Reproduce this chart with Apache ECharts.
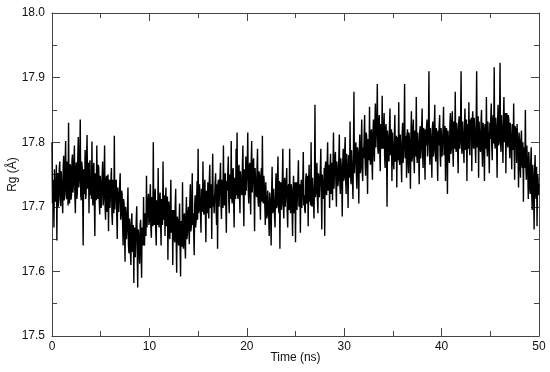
<!DOCTYPE html>
<html>
<head>
<meta charset="utf-8">
<script src="https://cdn.jsdelivr.net/npm/echarts@6/dist/echarts.min.js"></script>
<style>
  html, body { margin: 0; padding: 0; background: #fff; }
  #chart { width: 550px; height: 372px; }
</style>
</head>
<body>
<div id="chart"></div>
<script>
// sampling step of the trajectory (ns)
var dt = 0.05;

// Rg values (Å), one per dt (1 ns per row)
var rg = [
    17.800, 17.705, 17.742, 17.722, 17.668, 17.758, 17.761, 17.708, 17.712, 17.765, 17.648, 17.748, 17.752, 17.700, 17.719, 17.760, 17.770, 17.712, 17.701, 17.755,
    17.758, 17.715, 17.690, 17.762, 17.779, 17.710, 17.725, 17.768, 17.802, 17.718, 17.712, 17.770, 17.748, 17.702, 17.830, 17.726, 17.705, 17.766, 17.762, 17.711,
    17.718, 17.772, 17.781, 17.722, 17.735, 17.768, 17.795, 17.716, 17.690, 17.760, 17.769, 17.712, 17.722, 17.778, 17.808, 17.730, 17.741, 17.775, 17.835, 17.718,
    17.710, 17.770, 17.762, 17.715, 17.640, 17.758, 17.752, 17.720, 17.788, 17.712, 17.718, 17.776, 17.811, 17.728, 17.731, 17.768, 17.690, 17.762, 17.772, 17.718,
    17.745, 17.712, 17.801, 17.718, 17.702, 17.762, 17.768, 17.705, 17.655, 17.752, 17.741, 17.710, 17.795, 17.722, 17.712, 17.765, 17.760, 17.708, 17.688, 17.748,
    17.738, 17.698, 17.695, 17.748, 17.770, 17.702, 17.712, 17.745, 17.795, 17.700, 17.680, 17.742, 17.748, 17.692, 17.705, 17.750, 17.662, 17.735, 17.742, 17.698,
    17.701, 17.740, 17.760, 17.688, 17.672, 17.742, 17.735, 17.690, 17.810, 17.696, 17.695, 17.738, 17.742, 17.685, 17.650, 17.730, 17.728, 17.692, 17.690, 17.735,
    17.752, 17.680, 17.688, 17.725, 17.720, 17.672, 17.640, 17.712, 17.705, 17.660, 17.615, 17.700, 17.690, 17.650, 17.665, 17.698, 17.730, 17.640, 17.628, 17.682,
    17.672, 17.628, 17.610, 17.675, 17.690, 17.630, 17.635, 17.672, 17.582, 17.662, 17.668, 17.622, 17.625, 17.680, 17.701, 17.632, 17.575, 17.665, 17.655, 17.628,
    17.612, 17.672, 17.680, 17.635, 17.590, 17.668, 17.662, 17.640, 17.715, 17.648, 17.640, 17.690, 17.692, 17.655, 17.748, 17.668, 17.665, 17.708, 17.720, 17.672,
    17.678, 17.712, 17.735, 17.668, 17.652, 17.715, 17.710, 17.670, 17.800, 17.682, 17.672, 17.715, 17.728, 17.665, 17.640, 17.710, 17.702, 17.672, 17.760, 17.675,
    17.668, 17.715, 17.722, 17.675, 17.640, 17.712, 17.705, 17.672, 17.770, 17.680, 17.685, 17.718, 17.655, 17.710, 17.730, 17.670, 17.692, 17.716, 17.618, 17.700,
    17.708, 17.655, 17.650, 17.698, 17.742, 17.660, 17.668, 17.695, 17.610, 17.690, 17.695, 17.652, 17.645, 17.700, 17.728, 17.650, 17.598, 17.685, 17.680, 17.648,
    17.640, 17.680, 17.705, 17.640, 17.592, 17.678, 17.672, 17.638, 17.738, 17.648, 17.635, 17.685, 17.690, 17.642, 17.620, 17.682, 17.715, 17.650, 17.658, 17.690,
    17.700, 17.665, 17.642, 17.708, 17.735, 17.662, 17.668, 17.710, 17.752, 17.672, 17.690, 17.660, 17.625, 17.702, 17.718, 17.668, 17.678, 17.712, 17.740, 17.680,
    17.790, 17.690, 17.695, 17.735, 17.735, 17.688, 17.660, 17.728, 17.722, 17.692, 17.770, 17.695, 17.688, 17.732, 17.742, 17.690, 17.645, 17.725, 17.715, 17.690,
    17.738, 17.695, 17.682, 17.740, 17.765, 17.698, 17.705, 17.735, 17.650, 17.730, 17.782, 17.700, 17.718, 17.690, 17.690, 17.738, 17.752, 17.695, 17.672, 17.735,
    17.635, 17.738, 17.742, 17.700, 17.700, 17.745, 17.768, 17.702, 17.681, 17.742, 17.735, 17.698, 17.795, 17.710, 17.702, 17.748, 17.752, 17.700, 17.660, 17.740,
    17.725, 17.752, 17.778, 17.708, 17.690, 17.750, 17.748, 17.712, 17.802, 17.715, 17.705, 17.755, 17.760, 17.710, 17.668, 17.745, 17.735, 17.712, 17.790, 17.718,
    17.815, 17.720, 17.712, 17.760, 17.765, 17.718, 17.690, 17.755, 17.752, 17.722, 17.718, 17.765, 17.795, 17.715, 17.670, 17.758, 17.740, 17.718, 17.778, 17.725,
    17.722, 17.768, 17.815, 17.725, 17.705, 17.762, 17.768, 17.720, 17.688, 17.765, 17.802, 17.722, 17.740, 17.770, 17.775, 17.718, 17.662, 17.760, 17.758, 17.722,
    17.715, 17.758, 17.790, 17.712, 17.700, 17.755, 17.748, 17.710, 17.680, 17.750, 17.760, 17.708, 17.810, 17.715, 17.705, 17.748, 17.732, 17.702, 17.672, 17.738,
    17.740, 17.682, 17.688, 17.725, 17.725, 17.685, 17.655, 17.722, 17.712, 17.680, 17.640, 17.718, 17.762, 17.690, 17.695, 17.728, 17.730, 17.685, 17.668, 17.725,
    17.752, 17.698, 17.702, 17.742, 17.778, 17.700, 17.690, 17.740, 17.635, 17.730, 17.738, 17.695, 17.705, 17.745, 17.790, 17.702, 17.682, 17.738, 17.745, 17.700,
    17.700, 17.738, 17.760, 17.692, 17.668, 17.730, 17.735, 17.695, 17.790, 17.700, 17.690, 17.735, 17.728, 17.692, 17.655, 17.725, 17.748, 17.690, 17.705, 17.738,
    17.645, 17.730, 17.738, 17.695, 17.692, 17.740, 17.772, 17.700, 17.708, 17.735, 17.660, 17.728, 17.742, 17.698, 17.700, 17.738, 17.785, 17.702, 17.718, 17.695,
    17.690, 17.742, 17.752, 17.705, 17.712, 17.748, 17.670, 17.740, 17.765, 17.708, 17.728, 17.702, 17.800, 17.710, 17.700, 17.745, 17.748, 17.705, 17.682, 17.742,
    17.858, 17.715, 17.722, 17.755, 17.768, 17.712, 17.690, 17.752, 17.745, 17.715, 17.712, 17.758, 17.790, 17.718, 17.665, 17.750, 17.752, 17.712, 17.728, 17.760,
    17.655, 17.762, 17.770, 17.722, 17.718, 17.768, 17.800, 17.725, 17.735, 17.765, 17.698, 17.760, 17.782, 17.720, 17.740, 17.768, 17.710, 17.762, 17.815, 17.728,
    17.728, 17.775, 17.785, 17.735, 17.700, 17.770, 17.770, 17.732, 17.742, 17.778, 17.812, 17.738, 17.720, 17.775, 17.762, 17.735, 17.685, 17.768, 17.790, 17.740,
    17.745, 17.785, 17.808, 17.742, 17.720, 17.782, 17.782, 17.748, 17.698, 17.780, 17.770, 17.745, 17.832, 17.750, 17.735, 17.788, 17.790, 17.742, 17.712, 17.782,
    17.878, 17.752, 17.752, 17.790, 17.800, 17.750, 17.728, 17.792, 17.785, 17.755, 17.705, 17.788, 17.812, 17.752, 17.760, 17.795, 17.835, 17.755, 17.740, 17.792,
    17.775, 17.812, 17.842, 17.770, 17.748, 17.815, 17.810, 17.768, 17.720, 17.805, 17.798, 17.772, 17.855, 17.775, 17.765, 17.815, 17.820, 17.770, 17.742, 17.812,
    17.835, 17.790, 17.770, 17.830, 17.860, 17.792, 17.795, 17.835, 17.890, 17.790, 17.782, 17.832, 17.842, 17.788, 17.755, 17.828, 17.818, 17.790, 17.872, 17.795,
    17.790, 17.822, 17.845, 17.778, 17.760, 17.822, 17.828, 17.780, 17.700, 17.818, 17.805, 17.778, 17.770, 17.825, 17.852, 17.780, 17.782, 17.820, 17.740, 17.815,
    17.815, 17.768, 17.758, 17.812, 17.842, 17.770, 17.775, 17.810, 17.730, 17.808, 17.808, 17.772, 17.862, 17.772, 17.765, 17.812, 17.795, 17.768, 17.738, 17.812,
    17.830, 17.768, 17.770, 17.812, 17.890, 17.775, 17.782, 17.810, 17.745, 17.812, 17.820, 17.770, 17.752, 17.815, 17.805, 17.772, 17.728, 17.810, 17.848, 17.770,
    17.778, 17.818, 17.835, 17.775, 17.752, 17.818, 17.812, 17.778, 17.870, 17.780, 17.768, 17.815, 17.800, 17.778, 17.735, 17.815, 17.825, 17.775, 17.790, 17.820,
    17.852, 17.780, 17.760, 17.822, 17.818, 17.782, 17.742, 17.820, 17.795, 17.822, 17.835, 17.778, 17.778, 17.825, 17.910, 17.785, 17.765, 17.822, 17.808, 17.780,
    17.745, 17.822, 17.832, 17.778, 17.788, 17.825, 17.858, 17.782, 17.770, 17.822, 17.815, 17.778, 17.740, 17.818, 17.795, 17.825, 17.842, 17.780, 17.762, 17.822,
    17.820, 17.778, 17.778, 17.822, 17.855, 17.780, 17.792, 17.825, 17.740, 17.815, 17.822, 17.780, 17.720, 17.818, 17.805, 17.775, 17.768, 17.825, 17.845, 17.782,
    17.790, 17.832, 17.848, 17.788, 17.762, 17.832, 17.830, 17.790, 17.878, 17.792, 17.785, 17.830, 17.818, 17.788, 17.752, 17.828, 17.840, 17.790, 17.800, 17.832,
    17.910, 17.790, 17.782, 17.832, 17.835, 17.792, 17.768, 17.830, 17.852, 17.788, 17.795, 17.835, 17.740, 17.828, 17.825, 17.790, 17.862, 17.792, 17.780, 17.835,
    17.812, 17.838, 17.755, 17.832, 17.848, 17.795, 17.790, 17.838, 17.835, 17.795, 17.768, 17.835, 17.910, 17.792, 17.800, 17.840, 17.745, 17.832, 17.830, 17.792,
    17.785, 17.832, 17.850, 17.790, 17.762, 17.830, 17.822, 17.788, 17.740, 17.828, 17.812, 17.790, 17.870, 17.792, 17.778, 17.832, 17.835, 17.788, 17.752, 17.830,
    17.805, 17.838, 17.860, 17.795, 17.772, 17.835, 17.842, 17.798, 17.916, 17.800, 17.790, 17.838, 17.825, 17.795, 17.745, 17.835, 17.858, 17.795, 17.800, 17.838,
    17.923, 17.800, 17.785, 17.842, 17.842, 17.802, 17.768, 17.840, 17.870, 17.800, 17.810, 17.845, 17.752, 17.835, 17.845, 17.800, 17.792, 17.842, 17.835, 17.798,
    17.775, 17.830, 17.830, 17.790, 17.758, 17.828, 17.812, 17.788, 17.860, 17.790, 17.742, 17.825, 17.800, 17.822, 17.768, 17.828, 17.825, 17.780, 17.730, 17.815,
    17.802, 17.762, 17.745, 17.805, 17.818, 17.765, 17.760, 17.800, 17.708, 17.792, 17.790, 17.760, 17.850, 17.762, 17.742, 17.795, 17.775, 17.752, 17.712, 17.785,
    17.765, 17.728, 17.720, 17.768, 17.792, 17.722, 17.695, 17.765, 17.748, 17.718, 17.665, 17.758, 17.780, 17.722, 17.712, 17.762, 17.670, 17.750, 17.745, 17.718,
    17.735
];

var xRange = [0, 50];
var yRange = [17.5, 18.0];

var points = [];
for (var i = 0; i < rg.length; i++) {
    points.push([+(i * dt).toFixed(2), rg[i]]);
}

var frame = { show: true, onZero: false, lineStyle: { color: '#444', width: 1 } };
var labelFont = { color: '#111', fontSize: 12, fontFamily: 'Liberation Sans, Arial, sans-serif' };

var chart = echarts.init(document.getElementById('chart'));
chart.setOption({
    animation: false,
    backgroundColor: '#fff',
    grid: { left: 52, right: 11, top: 13, bottom: 36, containLabel: false, outerBoundsMode: 'none' },
    xAxis: [
        {
            type: 'value', min: xRange[0], max: xRange[1], interval: 10,
            name: 'Time (ns)', nameLocation: 'middle', nameGap: 16, nameMoveOverlap: false,
            nameTextStyle: labelFont,
            axisLine: frame,
            axisTick: { show: true, inside: true, length: 8, lineStyle: { color: '#444' } },
            minorTick: { show: true, splitNumber: 2, length: 5, lineStyle: { color: '#444' } },
            axisLabel: Object.assign({ margin: 5 }, labelFont),
            splitLine: { show: false }
        },
        {
            type: 'value', position: 'top', min: xRange[0], max: xRange[1], interval: 10,
            axisLine: frame,
            axisTick: { show: true, inside: true, length: 8, lineStyle: { color: '#444' } },
            minorTick: { show: true, splitNumber: 2, length: 5, lineStyle: { color: '#444' } },
            axisLabel: { show: false },
            splitLine: { show: false }
        }
    ],
    yAxis: [
        {
            type: 'value', min: yRange[0], max: yRange[1], interval: 0.1,
            name: 'Rg (Å)', nameLocation: 'middle', nameGap: 33, nameMoveOverlap: false,
            nameTextStyle: labelFont,
            axisLine: frame,
            axisTick: { show: true, inside: true, length: 8, lineStyle: { color: '#444' } },
            minorTick: { show: true, splitNumber: 2, length: 5, lineStyle: { color: '#444' } },
            axisLabel: Object.assign({ margin: 7, formatter: function (v) { return v.toFixed(1); } }, labelFont),
            splitLine: { show: false }
        },
        {
            type: 'value', position: 'right', min: yRange[0], max: yRange[1], interval: 0.1,
            axisLine: frame,
            axisTick: { show: true, inside: true, length: 8, lineStyle: { color: '#444' } },
            minorTick: { show: true, splitNumber: 2, length: 5, lineStyle: { color: '#444' } },
            axisLabel: { show: false },
            splitLine: { show: false }
        }
    ],
    series: [
        {
            name: 'Rg',
            type: 'line',
            xAxisIndex: 0,
            yAxisIndex: 0,
            data: points,
            showSymbol: false,
            sampling: null,
            lineStyle: { color: '#000', width: 1.4 }
        }
    ]
});
</script>
</body>
</html>
